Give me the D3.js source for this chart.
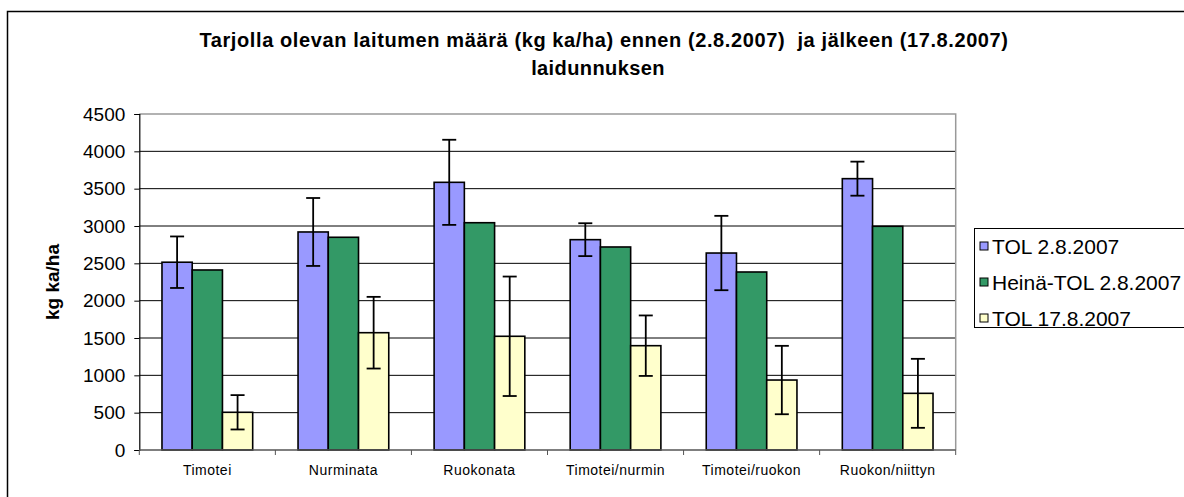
<!DOCTYPE html>
<html>
<head>
<meta charset="utf-8">
<script src="https://cdn.jsdelivr.net/npm/d3@7"></script>
<style>
  body { margin: 0; background: #fff; }
  text { font-family: Arial, "Liberation Sans", sans-serif; }
</style>
</head>
<body>
<div id="chart"></div>
<script>
/* DATA */
var categories = ["Timotei", "Nurminata", "Ruokonata", "Timotei/nurmin", "Timotei/ruokon", "Ruokon/niittyn"];
var seriesNames = ["TOL 2.8.2007", "Heinä-TOL 2.8.2007", "TOL 17.8.2007"];
var tol2 = [2515, 2920, 3585, 2817, 2638, 3634];
var heina2 = [2411, 2849, 3044, 2719, 2384, 2996];
var tol17 = [505, 1571, 1523, 1397, 937, 759];
// error bars (+/-), none for Heinä-TOL
var tol2Err = [345, 455, 570, 220, 498, 228];
var tol17Err = [230, 480, 800, 405, 458, 462];
var yTicks = [0, 500, 1000, 1500, 2000, 2500, 3000, 3500, 4000, 4500];
var colors = ["#9999FF", "#339966", "#FFFFCC"];

var W = 1184, H = 497;
var margin = {top: 114, left: 139.3, right: W - 955.7, bottom: H - 450};
var width = W - margin.left - margin.right,
    height = H - margin.top - margin.bottom;

var rows = [];
categories.forEach(function(c, i) {
  rows.push({cat: c, s: 0, value: tol2[i], err: tol2Err[i]});
  rows.push({cat: c, s: 1, value: heina2[i], err: null});
  rows.push({cat: c, s: 2, value: tol17[i], err: tol17Err[i]});
});

var x0 = d3.scaleBand().domain(categories).range([0, width]);
var x1 = d3.scaleBand().domain([0, 1, 2])
  .range([x0.bandwidth() / 6, x0.bandwidth() * 5 / 6]);
var y = d3.scaleLinear().domain([0, 4500]).range([height, 0]);

var svg = d3.select("#chart").append("svg")
  .attr("width", W).attr("height", H);

// outer chart border (cropped on right/bottom)
svg.append("path")
  .attr("d", "M7.5," + (H + 5) + "V11.5H" + (W + 5))
  .attr("fill", "none").attr("stroke", "#000").attr("stroke-width", 1.5);

// title
svg.append("text")
  .attr("x", 604).attr("y", 47)
  .attr("text-anchor", "middle")
  .style("font-size", "20px").style("font-weight", "bold")
  .style("letter-spacing", "0.6px")
  .text("Tarjolla olevan laitumen määrä (kg ka/ha) ennen (2.8.2007)\u00a0 ja jälkeen (17.8.2007)");
svg.append("text")
  .attr("x", 598).attr("y", 75)
  .attr("text-anchor", "middle")
  .style("font-size", "20px").style("font-weight", "bold")
  .style("letter-spacing", "0.4px")
  .text("laidunnuksen");

var g = svg.append("g")
  .attr("transform", "translate(" + margin.left + "," + margin.top + ")");

// gridlines
g.selectAll(".grid")
  .data(yTicks.filter(function(d) { return d > 0 && d < 4500; }))
  .enter().append("line")
  .attr("x1", 0).attr("x2", width)
  .attr("y1", function(d) { return y(d); })
  .attr("y2", function(d) { return y(d); })
  .attr("stroke", "#000").attr("stroke-width", 1);

// plot area border top/right (gray)
g.append("path")
  .attr("d", "M0," + y(4500) + "H" + width + "V" + height)
  .attr("fill", "none").attr("stroke", "#999").attr("stroke-width", 1.5);

// bars
g.selectAll(".bar")
  .data(rows)
  .enter().append("rect")
  .attr("x", function(d) { return x0(d.cat) + x1(d.s); })
  .attr("y", function(d) { return y(d.value); })
  .attr("width", x1.bandwidth())
  .attr("height", function(d) { return height - y(d.value); })
  .attr("fill", function(d) { return colors[d.s]; })
  .attr("stroke", "#000").attr("stroke-width", 1.6);

// error bars
var eb = g.selectAll(".err")
  .data(rows.filter(function(d) { return d.err != null; }))
  .enter().append("g")
  .attr("stroke", "#000").attr("stroke-width", 1.8);
eb.append("line")
  .attr("x1", function(d) { return x0(d.cat) + x1(d.s) + x1.bandwidth() / 2; })
  .attr("x2", function(d) { return x0(d.cat) + x1(d.s) + x1.bandwidth() / 2; })
  .attr("y1", function(d) { return y(d.value + d.err); })
  .attr("y2", function(d) { return y(d.value - d.err); });
[1, -1].forEach(function(sign) {
  eb.append("line")
    .attr("x1", function(d) { return x0(d.cat) + x1(d.s) + x1.bandwidth() / 2 - 7; })
    .attr("x2", function(d) { return x0(d.cat) + x1(d.s) + x1.bandwidth() / 2 + 7; })
    .attr("y1", function(d) { return y(d.value + sign * d.err); })
    .attr("y2", function(d) { return y(d.value + sign * d.err); });
});

// y axis
var yAxis = g.append("g")
  .call(d3.axisLeft(y).tickValues(yTicks).tickFormat(d3.format("d")).tickSize(5).tickPadding(9));
yAxis.select(".domain").attr("stroke", "#000").attr("stroke-width", 1.2);
yAxis.selectAll(".tick line").attr("stroke", "#000");
yAxis.selectAll("text").style("font-size", "19px").attr("fill", "#000");

// x axis: ticks at category boundaries
var xAxis = g.append("g").attr("transform", "translate(0," + height + ")");
xAxis.append("line")
  .attr("x1", 0).attr("x2", width)
  .attr("stroke", "#555").attr("stroke-width", 1.5);
xAxis.selectAll(".xt")
  .data(categories.concat(["end"]))
  .enter().append("line")
  .attr("x1", function(d, i) { return i < categories.length ? x0(d) : width; })
  .attr("x2", function(d, i) { return i < categories.length ? x0(d) : width; })
  .attr("y1", 0).attr("y2", 5)
  .attr("stroke", "#555");
xAxis.selectAll(".xl")
  .data(categories)
  .enter().append("text")
  .attr("x", function(d) { return x0(d) + x0.bandwidth() / 2; })
  .attr("y", 25)
  .attr("text-anchor", "middle")
  .style("font-size", "14px")
  .style("letter-spacing", "0.5px")
  .text(function(d) { return d; });

// y axis title
svg.append("text")
  .attr("transform", "translate(59," + (margin.top + height / 2) + ") rotate(-90)")
  .attr("text-anchor", "middle")
  .style("font-size", "19px").style("font-weight", "bold")
  .text("kg ka/ha");

// legend
var lg = svg.append("g").attr("transform", "translate(974,228)");
lg.append("rect")
  .attr("x", 0.5).attr("y", 0.5).attr("width", 260).attr("height", 99)
  .attr("fill", "#fff").attr("stroke", "#000").attr("stroke-width", 1);
var li = lg.selectAll(".li")
  .data(seriesNames)
  .enter().append("g")
  .attr("transform", function(d, i) { return "translate(6," + (18 + i * 36) + ")"; });
li.append("rect")
  .attr("x", 0).attr("y", -4).attr("width", 8).attr("height", 8)
  .attr("fill", function(d, i) { return colors[i]; })
  .attr("stroke", "#000").attr("stroke-width", 1);
li.append("text")
  .attr("x", 12).attr("y", 7.5)
  .style("font-size", "21px")
  .text(function(d) { return d; });
</script>
</body>
</html>
